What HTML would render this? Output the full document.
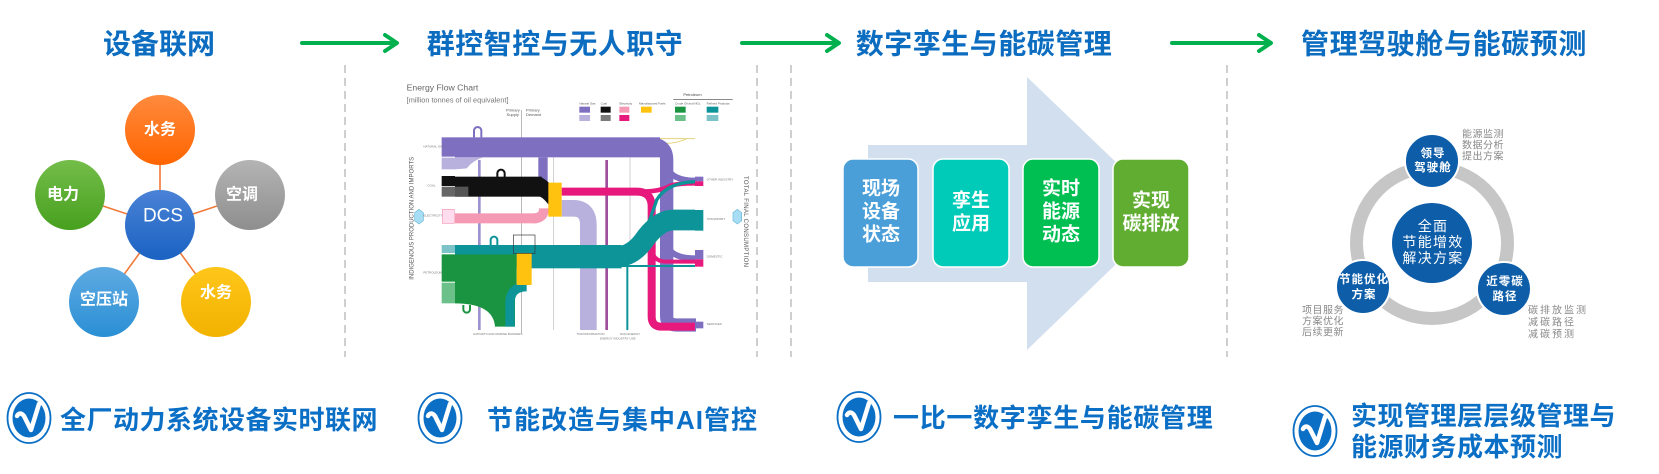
<!DOCTYPE html>
<html><head><meta charset="utf-8"><style>
html,body{margin:0;padding:0;background:#fff;width:1659px;height:474px;overflow:hidden}
svg{display:block}
</style></head><body>
<svg width="1659" height="474" viewBox="0 0 1659 474" font-family="'Liberation Sans','Noto Sans CJK SC',sans-serif">
<defs>
<linearGradient id="gOr" x1="0" y1="0" x2="0" y2="1"><stop offset="0" stop-color="#ff8a3d"/><stop offset="1" stop-color="#ff6500"/></linearGradient>
<linearGradient id="gGr" x1="0" y1="0" x2="0" y2="1"><stop offset="0" stop-color="#74bd4a"/><stop offset="1" stop-color="#47a01e"/></linearGradient>
<linearGradient id="gGy" x1="0" y1="0" x2="0" y2="1"><stop offset="0" stop-color="#b4b4b4"/><stop offset="1" stop-color="#8e8e8e"/></linearGradient>
<linearGradient id="gBl" x1="0" y1="0" x2="0" y2="1"><stop offset="0" stop-color="#4a82d6"/><stop offset="1" stop-color="#1a62c2"/></linearGradient>
<linearGradient id="gLb" x1="0" y1="0" x2="0" y2="1"><stop offset="0" stop-color="#5eaae2"/><stop offset="1" stop-color="#2a8fd4"/></linearGradient>
<linearGradient id="gYe" x1="0" y1="0" x2="0" y2="1"><stop offset="0" stop-color="#ffc61a"/><stop offset="1" stop-color="#f2b200"/></linearGradient>
</defs>

<!-- dashed separators -->
<g stroke="#cfcfcf" stroke-width="2" stroke-dasharray="8 5">
<line x1="345" y1="65" x2="345" y2="357"/>
<line x1="757" y1="65" x2="757" y2="357"/>
<line x1="791" y1="65" x2="791" y2="357"/>
<line x1="1227" y1="65" x2="1227" y2="357"/>
</g>

<!-- titles -->
<g fill="#0b6cc0" font-size="28" font-weight="bold" text-anchor="middle" dominant-baseline="central">
<text x="159" y="44">设备联网</text>
<text x="555" y="44" letter-spacing="0.5">群控智控与无人职守</text>
<text x="984" y="44" letter-spacing="0.5">数字孪生与能碳管理</text>
<text x="1444" y="44" letter-spacing="0.6">管理驾驶舱与能碳预测</text>
</g>

<!-- green arrows -->
<g stroke="#00b04f" stroke-width="4" fill="none" stroke-linecap="round" stroke-linejoin="round">
<line x1="302" y1="43" x2="396" y2="43"/><polyline points="385,35 397,43 385,51"/>
<line x1="742" y1="43" x2="838" y2="43"/><polyline points="827,35 839,43 827,51"/>
<line x1="1172" y1="43" x2="1270" y2="43"/><polyline points="1259,35 1271,43 1259,51"/>
</g>

<!-- Section 1: DCS -->
<g stroke="#f07a3a" stroke-width="1.6">
<line x1="160" y1="225" x2="160" y2="130"/>
<line x1="160" y1="225" x2="70" y2="195"/>
<line x1="160" y1="225" x2="250" y2="195"/>
<line x1="160" y1="225" x2="104" y2="302"/>
<line x1="160" y1="225" x2="216" y2="302"/>
</g>
<circle cx="160" cy="130" r="35" fill="url(#gOr)"/>
<circle cx="70" cy="195" r="35" fill="url(#gGr)"/>
<circle cx="250" cy="195" r="35" fill="url(#gGy)"/>
<circle cx="160" cy="225" r="35" fill="url(#gBl)"/>
<circle cx="104" cy="302" r="35" fill="url(#gLb)"/>
<circle cx="216" cy="302" r="35" fill="url(#gYe)"/>
<g fill="#fff" font-size="16" font-weight="bold" text-anchor="middle" dominant-baseline="central">
<text x="160" y="130">水务</text>
<text x="63" y="195">电力</text>
<text x="242" y="195">空调</text>
<text x="104" y="300">空压站</text>
<text x="216" y="293">水务</text>
<text x="163" y="216" font-size="19" font-weight="normal">DCS</text>
</g>

<!-- Section 2: energy flow chart -->
<svg x="340" y="60" width="440" height="290" viewBox="0 0 1320 870" font-family="'Liberation Sans',sans-serif">
<text x="200" y="92" font-size="26" fill="#666">Energy Flow Chart</text>
<text x="200" y="128" font-size="22" fill="#777">[million tonnes of oil equivalent]</text>
<text x="1030" y="108" font-size="12" fill="#444">Petroleum</text>
<line x1="1000" y1="118" x2="1178" y2="118" stroke="#444" stroke-width="2"/>
<g font-size="9" fill="#555">
<text x="718" y="134">Natural Gas</text><text x="782" y="134">Coal</text><text x="838" y="134">Electricity</text><text x="897" y="134">Manufactured Fuels</text><text x="1005" y="134">Crude Oil and NGL</text><text x="1100" y="134">Refined Products</text>
</g>
<rect x="718" y="140" width="32" height="18" fill="#7e6fc1"/>
<rect x="782" y="140" width="30" height="18" fill="#111"/>
<rect x="838" y="140" width="30" height="18" fill="#f59ab5"/>
<rect x="903" y="140" width="32" height="18" fill="#ffc20e"/>
<rect x="1005" y="140" width="32" height="18" fill="#1a9441"/>
<rect x="1100" y="140" width="35" height="18" fill="#0d9499"/>
<rect x="718" y="165" width="32" height="18" fill="#b8b0dd"/>
<rect x="782" y="165" width="30" height="18" fill="#7a7a7a"/>
<rect x="838" y="165" width="30" height="18" fill="#e8197c"/>
<rect x="1005" y="165" width="32" height="18" fill="#6cc08a"/>
<rect x="1100" y="165" width="35" height="18" fill="#7cc3c8"/>
<g font-size="12" fill="#555"><text x="498" y="155">Primary</text><text x="500" y="168">Supply</text><text x="558" y="155">Primary</text><text x="558" y="168">Demand</text></g>
<line x1="545" y1="150" x2="545" y2="820" stroke="#999" stroke-width="2"/>
<!-- thin lines -->
<line x1="640" y1="292" x2="640" y2="810" stroke="#bbb" stroke-width="2"/>
<line x1="870" y1="292" x2="870" y2="560" stroke="#bbb" stroke-width="2"/>
<line x1="800" y1="300" x2="800" y2="810" stroke="#9c4f9c" stroke-width="8"/>
<line x1="862" y1="620" x2="862" y2="810" stroke="#0d9499" stroke-width="6"/>
<line x1="418" y1="300" x2="418" y2="810" stroke="#9c92d0" stroke-width="8"/>
<path d="M 960 236 H 1065 M 980 250 Q 1010 250 1040 236" stroke="#e8d27a" stroke-width="3" fill="none"/>
<!-- purple -->
<rect x="345" y="232" width="615" height="60" fill="#7e6fc1"/>
<path d="M 930 252 Q 980 252 980 300 V 770 Q 980 795 1010 795 H 1068" stroke="#7e6fc1" stroke-width="40" fill="none"/>
<path d="M 980 320 Q 995 362 1065 362" stroke="#7e6fc1" stroke-width="18" fill="none"/>
<path d="M 980 555 Q 995 595 1065 595" stroke="#7e6fc1" stroke-width="18" fill="none"/>
<rect x="595" y="292" width="28" height="90" fill="#7e6fc1"/>
<path d="M345 292 L430 292 Q 400 300 380 325 L 345 328 Z" fill="#b8b0dd"/>
<path d="M 402 232 V 212 A 11 11 0 0 1 424 212 V 232" stroke="#7e6fc1" stroke-width="6" fill="none"/>
<!-- black -->
<rect x="345" y="350" width="260" height="60" fill="#111"/>
<path d="M 600 350 Q 620 360 630 372 L 630 440 Q 612 415 600 410 Z" fill="#111"/>
<rect x="345" y="380" width="40" height="30" fill="#555"/>
<path d="M 472 352 V 340 A 11 11 0 0 1 494 340 V 352" stroke="#111" stroke-width="6" fill="none"/>
<!-- pink -->
<rect x="345" y="460" width="245" height="30" fill="#f59ab5"/>
<path d="M 580 475 Q 612 475 612 445" stroke="#f59ab5" stroke-width="30" fill="none"/>
<!-- lavender -->
<path d="M 665 445 H 700 Q 745 445 745 495 V 810" stroke="#b8b0dd" stroke-width="50" fill="none"/>
<!-- magenta -->
<path d="M 665 395 H 890 Q 935 395 935 440 V 770 Q 935 800 965 800 H 1065" stroke="#e8197c" stroke-width="24" fill="none"/>
<path d="M 900 395 Q 960 395 990 378 Q 1010 370 1065 370" stroke="#e8197c" stroke-width="14" fill="none"/>
<path d="M 935 560 Q 935 605 980 605 H 1065" stroke="#e8197c" stroke-width="12" fill="none"/>
<!-- yellow box 1 -->
<rect x="625" y="368" width="40" height="102" fill="#ffc20e"/>
<!-- teal -->
<rect x="345" y="555" width="500" height="70" fill="#0d9499"/>
<path d="M 830 590 Q 880 590 920 530 Q 960 480 1000 480 H 1065" stroke="#0d9499" stroke-width="62" fill="none"/>
<path d="M 860 590 Q 905 560 950 420 Q 980 368 1065 365" stroke="#0d9499" stroke-width="10" fill="none"/>
<path d="M 840 618 H 1065" stroke="#0d9499" stroke-width="6" fill="none"/>
<path d="M 452 555 V 540 A 10 10 0 0 1 472 540 V 555" stroke="#0d9499" stroke-width="6" fill="none"/>
<!-- green -->
<path d="M 345 583 H 530 V 680 Q 525 690 525 720 V 800 H 465 Q 460 730 345 730 Z" fill="#1a9441"/>
<path d="M 560 680 Q 510 680 510 730 V 800" stroke="#0d9499" stroke-width="28" fill="none"/>
<rect x="530" y="580" width="45" height="95" fill="#ffc20e"/>
<path d="M 370 735 V 748 A 10 10 0 0 0 390 748 V 735" stroke="#1a9441" stroke-width="6" fill="none"/>
<!-- left boxes -->
<rect x="305" y="232" width="40" height="58" fill="#7e6fc1"/>
<rect x="305" y="293" width="40" height="35" fill="#b8b0dd"/>
<rect x="305" y="348" width="40" height="30" fill="#111"/>
<rect x="305" y="380" width="40" height="30" fill="#666"/>
<rect x="307" y="448" width="36" height="42" fill="#fde" stroke="#f59ab5" stroke-width="2"/>
<rect x="305" y="555" width="40" height="24" fill="#7cc3c8"/>
<rect x="305" y="583" width="40" height="82" fill="#1a9441"/>
<rect x="305" y="668" width="40" height="62" fill="#6cc08a"/>
<!-- outputs -->
<rect x="1065" y="350" width="25" height="14" fill="#7e6fc1"/>
<rect x="1065" y="364" width="25" height="14" fill="#e8197c"/>
<rect x="1065" y="450" width="25" height="62" fill="#0d9499"/>
<rect x="1065" y="570" width="25" height="28" fill="#7e6fc1"/>
<rect x="1065" y="598" width="25" height="22" fill="#e8197c"/>
<rect x="1065" y="785" width="25" height="20" fill="#7e6fc1"/>
<rect x="520" y="525" width="65" height="55" fill="none" stroke="#333" stroke-width="2"/>
<!-- hex labels -->
<polygon points="237,448 250,458 250,482 237,492 224,482 224,458" fill="#a8def5" stroke="#6bb8d8" stroke-width="2"/>
<polygon points="1192,448 1205,458 1205,482 1192,492 1179,482 1179,458" fill="#a8def5" stroke="#6bb8d8" stroke-width="2"/>
<text transform="translate(220,475) rotate(-90)" text-anchor="middle" font-size="18" fill="#555">INDIGENOUS PRODUCTION AND IMPORTS</text>
<text transform="translate(1212,485) rotate(90)" text-anchor="middle" font-size="18" fill="#555" letter-spacing="1">TOTAL FINAL CONSUMPTION</text>
<g font-size="9" fill="#777">
<text x="1100" y="362">OTHER INDUSTRY</text><text x="1100" y="480">TRANSPORT</text><text x="1100" y="592">DOMESTIC</text><text x="1100" y="795">SERVICES</text>
<text x="250" y="262">NATURAL GAS</text><text x="262" y="380">COAL</text><text x="250" y="470">ELECTRICITY</text><text x="250" y="640">PETROLEUM</text>
<text x="400" y="825">EXPORTS AND MARINE BUNKERS</text><text x="710" y="825">TRANSFORMATION</text><text x="780" y="838">ENERGY INDUSTRY USE</text><text x="840" y="825">NON ENERGY</text>
</g>
</svg>

<!-- Section 3 -->
<polygon points="868,145 1027,145 1027,77 1169,213 1027,350 1027,282 868,282" fill="#d1dfef"/>
<g stroke="#fff" stroke-width="1.5">
<rect x="843" y="159" width="75" height="108" rx="10" fill="#4a9fd8"/>
<rect x="933" y="159" width="76" height="108" rx="10" fill="#00cbb9"/>
<rect x="1023" y="159" width="76" height="108" rx="10" fill="#00bf52"/>
<rect x="1113" y="159" width="76" height="108" rx="10" fill="#61ad32"/>
</g>
<g fill="#fff" font-size="19" font-weight="bold" text-anchor="middle" dominant-baseline="central">
<text x="881" y="189">现场</text><text x="881" y="212">设备</text><text x="881" y="235">状态</text>
<text x="971" y="201">孪生</text><text x="971" y="224">应用</text>
<text x="1061" y="189">实时</text><text x="1061" y="212">能源</text><text x="1061" y="235">动态</text>
<text x="1151" y="201">实现</text><text x="1151" y="224">碳排放</text>
</g>

<!-- Section 4 -->
<circle cx="1432" cy="243" r="75.5" fill="none" stroke="#c6c6c6" stroke-width="13"/>
<circle cx="1432" cy="243" r="40" fill="#0d5da8"/>
<g stroke="#fff" stroke-width="2" fill="#0d5da8">
<circle cx="1432" cy="161" r="27"/>
<circle cx="1363" cy="287" r="27"/>
<circle cx="1504" cy="289" r="27"/>
</g>
<g fill="#fff" text-anchor="middle" dominant-baseline="central">
<g font-size="14" letter-spacing="1.3">
<text x="1433" y="226">全面</text><text x="1433" y="242">节能增效</text><text x="1433" y="258">解决方案</text>
</g>
<g font-size="11.5" font-weight="bold" letter-spacing="1">
<text x="1433" y="154">领导</text><text x="1433" y="168">驾驶舱</text>
<text x="1364" y="280">节能优化</text><text x="1364" y="295">方案</text>
<text x="1505" y="282">近零碳</text><text x="1505" y="297">路径</text>
</g>
</g>
<g fill="#8a8a8a" font-size="10" dominant-baseline="central">
<text x="1462" y="135" letter-spacing="0.5">能源监测</text><text x="1462" y="146" letter-spacing="0.5">数据分析</text><text x="1462" y="157" letter-spacing="0.5">提出方案</text>
<text x="1302" y="311" letter-spacing="0.5">项目服务</text><text x="1302" y="322" letter-spacing="0.5">方案优化</text><text x="1302" y="333" letter-spacing="0.5">后续更新</text>
<text x="1528" y="311" letter-spacing="2">碳排放监测</text><text x="1528" y="323" letter-spacing="2">减碳路径</text><text x="1528" y="335" letter-spacing="2">减碳预测</text>
</g>

<!-- bottom logos -->
<g transform="translate(29,418)">
<ellipse rx="21.5" ry="25" fill="none" stroke="#0b6fc6" stroke-width="1.8"/>
<ellipse rx="16.5" ry="19.5" fill="#0b6fc6"/>
<path d="M -12 -2 Q -9 -7 -5 -2 L 2 12 L 10 -14" stroke="#fff" stroke-width="4.5" fill="none" stroke-linecap="round" stroke-linejoin="round"/>
</g>
<g transform="translate(440,418)">
<ellipse rx="21.5" ry="25" fill="none" stroke="#0b6fc6" stroke-width="1.8"/>
<ellipse rx="16.5" ry="19.5" fill="#0b6fc6"/>
<path d="M -12 -2 Q -9 -7 -5 -2 L 2 12 L 10 -14" stroke="#fff" stroke-width="4.5" fill="none" stroke-linecap="round" stroke-linejoin="round"/>
</g>
<g transform="translate(859,417)">
<ellipse rx="21.5" ry="25" fill="none" stroke="#0b6fc6" stroke-width="1.8"/>
<ellipse rx="16.5" ry="19.5" fill="#0b6fc6"/>
<path d="M -12 -2 Q -9 -7 -5 -2 L 2 12 L 10 -14" stroke="#fff" stroke-width="4.5" fill="none" stroke-linecap="round" stroke-linejoin="round"/>
</g>
<g transform="translate(1315,431)">
<ellipse rx="21.5" ry="25" fill="none" stroke="#0b6fc6" stroke-width="1.8"/>
<ellipse rx="16.5" ry="19.5" fill="#0b6fc6"/>
<path d="M -12 -2 Q -9 -7 -5 -2 L 2 12 L 10 -14" stroke="#fff" stroke-width="4.5" fill="none" stroke-linecap="round" stroke-linejoin="round"/>
</g>

<!-- bottom texts -->
<g fill="#0b6fc6" font-size="26" font-weight="bold" dominant-baseline="central">
<text x="60" y="420" letter-spacing="0.5">全厂动力系统设备实时联网</text>
<text x="487" y="420" letter-spacing="1">节能改造与集中AI管控</text>
<text x="893" y="418" letter-spacing="0.7">一比一数字孪生与能碳管理</text>
<text x="1351" y="416" letter-spacing="0.5">实现管理层层级管理与</text>
<text x="1351" y="447" letter-spacing="0.5">能源财务成本预测</text>
</g>
</svg>
</body></html>
